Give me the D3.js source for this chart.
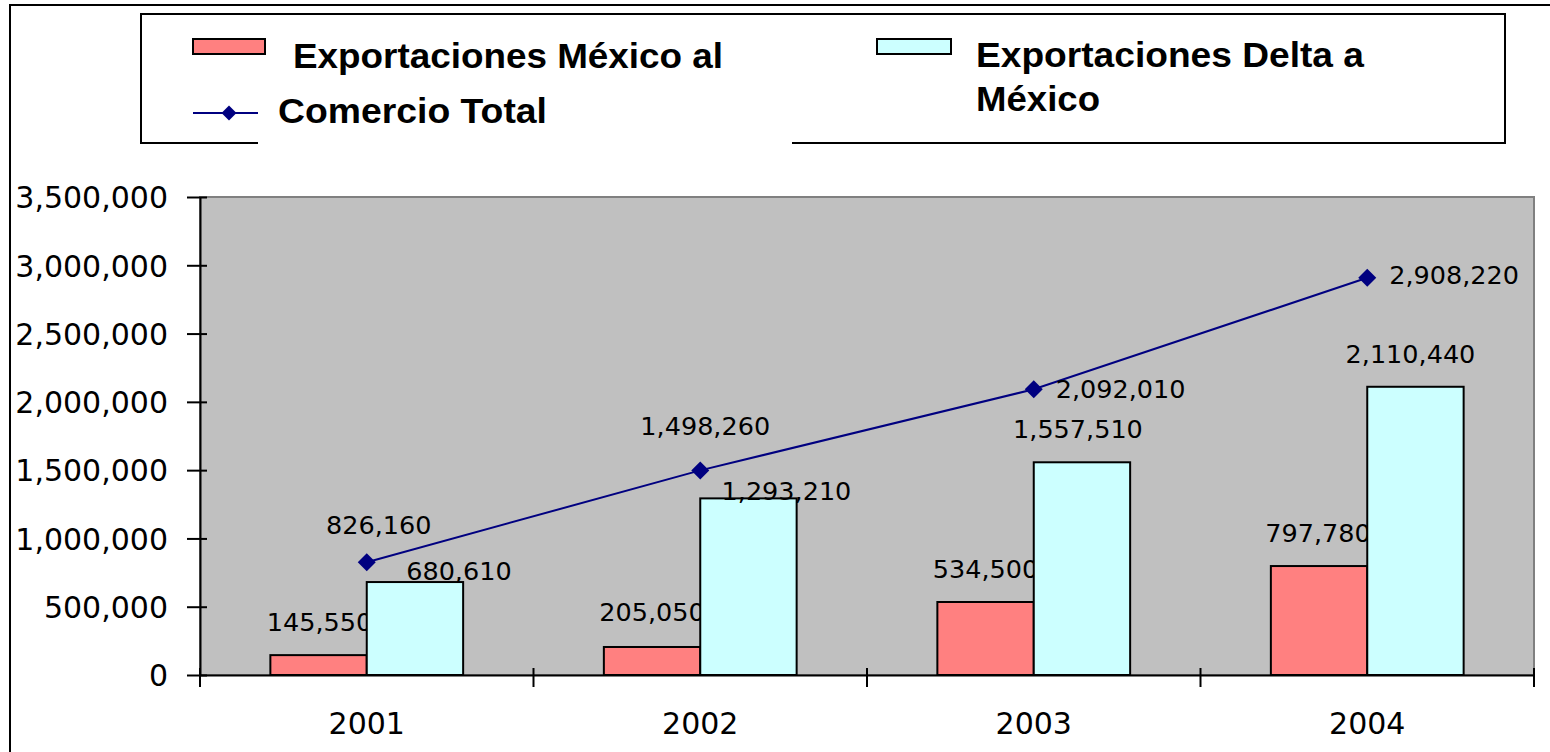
<!DOCTYPE html>
<html>
<head>
<meta charset="utf-8">
<script src="https://cdn.jsdelivr.net/npm/d3@7"></script>
<style>
  html, body { margin: 0; padding: 0; background: #fff; }
  svg { display: block; }
</style>
</head>
<body>
<svg id="chart" width="1550" height="752"></svg>
<script>
// ---- data ----
const categories = ["2001", "2002", "2003", "2004"];
const exportsMexico = [145550, 205050, 534500, 797780];
const exportsDelta = [680610, 1293210, 1557510, 2110440];
const totalTrade = [826160, 1498260, 2092010, 2908220];
const yTicks = [0, 500000, 1000000, 1500000, 2000000, 2500000, 3000000, 3500000];
const legendMexico = "Exportaciones México al";
const legendDeltaLines = ["Exportaciones Delta a", "México"];
const legendTotal = "Comercio Total";

// label placement nudges (pixels), separate from the data
const mexicoLabelNudge = [[1, 0], [0, -2], [0, 0], [-1, 0]];
const deltaLabelNudge = [[44, 22], [38, 26], [-4, 0], [-5, 0]];
const totalLabelPlace = ["above", "above", "right", "right"];
const totalLabelNudge = [[12, 0], [5, -7], [0, 0], [0, -2]];

// ---- layout ----
const svg = d3.select("#chart");
const plot = { left: 200, right: 1534, top: 197, bottom: 675 };
const fmt = d3.format(",");
const numFont = "DejaVu Sans, Verdana, sans-serif";

const y = d3.scaleLinear().domain([0, 3500000]).range([plot.bottom, plot.top]);
const x0 = d3.scaleBand().domain(categories).range([plot.left, plot.right]).padding(0);
const x1 = d3.scaleBand().domain(["mx", "delta"]).range([0, x0.bandwidth()])
  .paddingInner(0).paddingOuter(0.73);

// outer frame
svg.append("rect").attr("x", 10).attr("y", 5).attr("width", 1600).attr("height", 800)
  .attr("fill", "#fff").attr("stroke", "#000").attr("stroke-width", 2);

// plot area
svg.append("rect")
  .attr("x", plot.left).attr("y", plot.top)
  .attr("width", plot.right - plot.left).attr("height", plot.bottom - plot.top)
  .attr("fill", "#C0C0C0").attr("stroke", "#808080").attr("stroke-width", 2);

const mexicoData = categories.map((c, i) => ({ c, v: exportsMexico[i], i }));
const deltaData = categories.map((c, i) => ({ c, v: exportsDelta[i], i }));
const totalData = categories.map((c, i) => ({ c, v: totalTrade[i], i }));

// red bars
svg.append("g").selectAll("rect").data(mexicoData).join("rect")
  .attr("x", d => x0(d.c) + x1("mx"))
  .attr("y", d => y(d.v))
  .attr("width", x1.bandwidth())
  .attr("height", d => y(0) - y(d.v))
  .attr("fill", "#FF8080").attr("stroke", "#000").attr("stroke-width", 2);

// red labels (drawn before cyan bars, which overlap them)
svg.append("g").selectAll("text").data(mexicoData).join("text")
  .attr("x", d => x0(d.c) + x1("mx") + x1.bandwidth() / 2 + mexicoLabelNudge[d.i][0])
  .attr("y", d => y(d.v) - 24 + mexicoLabelNudge[d.i][1])
  .attr("text-anchor", "middle")
  .attr("font-family", numFont).attr("font-size", 25.5).attr("fill", "#000")
  .text(d => fmt(d.v));

// cyan bars
svg.append("g").selectAll("rect").data(deltaData).join("rect")
  .attr("x", d => x0(d.c) + x1("delta"))
  .attr("y", d => y(d.v))
  .attr("width", x1.bandwidth())
  .attr("height", d => y(0) - y(d.v))
  .attr("fill", "#CCFFFF").attr("stroke", "#000").attr("stroke-width", 2);

svg.append("g").selectAll("text").data(deltaData).join("text")
  .attr("x", d => x0(d.c) + x1("delta") + x1.bandwidth() / 2 + deltaLabelNudge[d.i][0])
  .attr("y", d => y(d.v) - 24 + deltaLabelNudge[d.i][1])
  .attr("text-anchor", "middle")
  .attr("font-family", numFont).attr("font-size", 25.5).attr("fill", "#000")
  .text(d => fmt(d.v));

// axes
const yAxis = svg.append("g").attr("transform", `translate(${plot.left},0)`)
  .call(d3.axisLeft(y).tickValues(yTicks).tickFormat(fmt).tickSize(13).tickPadding(19).tickSizeOuter(0));
yAxis.select(".domain").attr("stroke", "#000").attr("stroke-width", 2);
yAxis.selectAll(".tick line").attr("x1", 7).attr("x2", -13).attr("stroke", "#000").attr("stroke-width", 2);
yAxis.selectAll(".tick text").attr("font-family", numFont).attr("font-size", 30).attr("fill", "#000").attr("dy", "0.36em");

const xAxis = svg.append("g").attr("transform", `translate(0,${plot.bottom})`)
  .call(d3.axisBottom(x0).tickSize(0).tickPadding(38).tickSizeOuter(0));
xAxis.select(".domain").attr("stroke", "#000").attr("stroke-width", 2);
xAxis.selectAll(".tick text").attr("font-family", numFont).attr("font-size", 30).attr("fill", "#000");
const boundaries = categories.map(c => x0(c)).concat([x0.range()[1]]);
svg.append("g").selectAll("line").data(boundaries).join("line")
  .attr("x1", d => d).attr("x2", d => d)
  .attr("y1", plot.bottom - 7).attr("y2", plot.bottom + 12)
  .attr("stroke", "#000").attr("stroke-width", 2);

// total trade line
const cx = d => x0(d.c) + x0.bandwidth() / 2;
svg.append("path").datum(totalData)
  .attr("d", d3.line().x(cx).y(d => y(d.v)))
  .attr("fill", "none").attr("stroke", "#000080").attr("stroke-width", 2);

const diamond = (px, py, r) => `M${px},${py - r}L${px + r},${py}L${px},${py + r}L${px - r},${py}Z`;
svg.append("g").selectAll("path").data(totalData).join("path")
  .attr("d", d => diamond(cx(d), y(d.v), 9))
  .attr("fill", "#000080");

svg.append("g").selectAll("text").data(totalData).join("text")
  .attr("x", d => cx(d) + (totalLabelPlace[d.i] === "right" ? 22 : 0) + totalLabelNudge[d.i][0])
  .attr("y", d => y(d.v) + (totalLabelPlace[d.i] === "right" ? 8.5 : -28) + totalLabelNudge[d.i][1])
  .attr("text-anchor", d => totalLabelPlace[d.i] === "right" ? "start" : "middle")
  .attr("font-family", numFont).attr("font-size", 25.5).attr("fill", "#000")
  .text(d => fmt(d.v));

// legend
const lg = svg.append("g");
lg.append("rect").attr("x", 141).attr("y", 14).attr("width", 1364).attr("height", 129)
  .attr("fill", "#fff").attr("stroke", "#000").attr("stroke-width", 2);
lg.append("rect").attr("x", 258).attr("y", 96).attr("width", 534).attr("height", 56).attr("fill", "#fff");

const legendFont = "Liberation Sans, Arial, Helvetica, sans-serif";
const legendSize = 35;
lg.append("rect").attr("x", 193).attr("y", 39).attr("width", 72).attr("height", 15)
  .attr("fill", "#FF8080").attr("stroke", "#000").attr("stroke-width", 2);
lg.append("text").attr("x", 293).attr("y", 68)
  .attr("font-family", legendFont).attr("font-weight", "bold").attr("font-size", legendSize)
  .attr("textLength", 430).attr("lengthAdjust", "spacingAndGlyphs")
  .text(legendMexico);

lg.append("rect").attr("x", 877).attr("y", 39).attr("width", 74).attr("height", 15)
  .attr("fill", "#CCFFFF").attr("stroke", "#000").attr("stroke-width", 2);
const dLen = [388, 124];
legendDeltaLines.forEach((t, i) => {
  lg.append("text").attr("x", 976).attr("y", 67 + i * 44)
    .attr("font-family", legendFont).attr("font-weight", "bold").attr("font-size", legendSize)
    .attr("textLength", dLen[i]).attr("lengthAdjust", "spacingAndGlyphs")
    .text(t);
});

lg.append("line").attr("x1", 193).attr("x2", 258).attr("y1", 113).attr("y2", 113)
  .attr("stroke", "#000080").attr("stroke-width", 2);
lg.append("path").attr("d", diamond(229, 113, 7.5)).attr("fill", "#000080");
lg.append("text").attr("x", 278).attr("y", 123)
  .attr("font-family", legendFont).attr("font-weight", "bold").attr("font-size", legendSize)
  .attr("textLength", 269).attr("lengthAdjust", "spacingAndGlyphs")
  .text(legendTotal);
</script>
</body>
</html>
